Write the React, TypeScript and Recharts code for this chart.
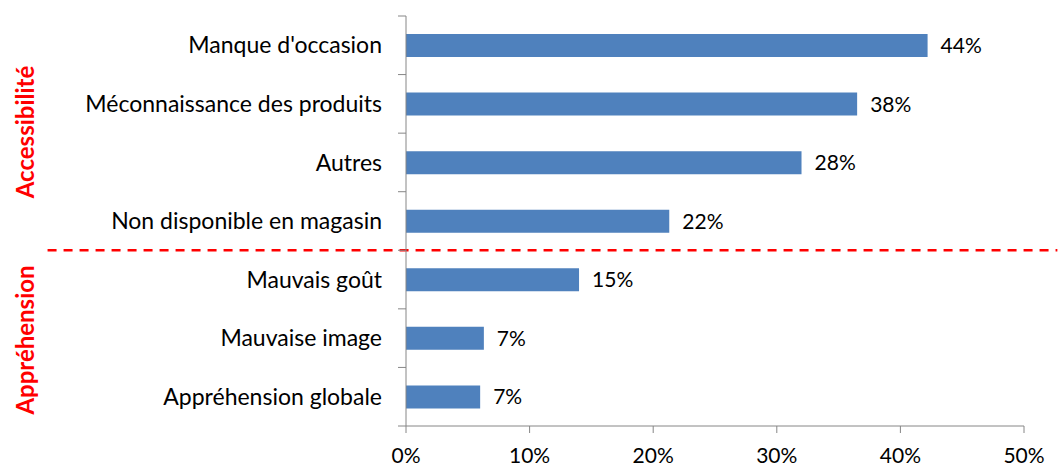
import * as React from "react";
import { Bar, BarChart, LabelList, ReferenceLine, XAxis, YAxis } from "recharts";

// Reasons given, top to bottom. First four are "Accessibilité", last three "Appréhension".
const CATEGORIES = [
  "Manque d'occasion",
  "Méconnaissance des produits",
  "Autres",
  "Non disponible en magasin",
  "Mauvais goût",
  "Mauvaise image",
  "Appréhension globale",
];
// Bar lengths as drawn (the printed labels don't quite match them).
const VALUES = [42.2, 36.5, 32.0, 21.3, 14.0, 6.3, 6.0];
const VALUE_LABELS = ["44%", "38%", "28%", "22%", "15%", "7%", "7%"];
const X_TICKS = [0, 10, 20, 30, 40, 50];
// last category of the first group; the dashed divider sits under it
const LAST_OF_FIRST_GROUP = "Non disponible en magasin";

const FONT = "Lato, 'Open Sans', sans-serif";
const BLUE = "#4F81BD";
const AXIS = "#868686";
const RED = "#FF0000";

const W = 1064;
const H = 466;
const MARGIN = { top: 16, right: 40, bottom: 0, left: 0 };
const X_AXIS_H = 40;
const Y_AXIS_W = 406;
const BAND = (H - MARGIN.top - MARGIN.bottom - X_AXIS_H) / CATEGORIES.length;

const rows = CATEGORIES.map((name, i) => ({
  name,
  value: VALUES[i],
  label: VALUE_LABELS[i],
}));

// Excel-style category tick: label at band centre, tick marks on band edges.
function CategoryTick(props: any) {
  const { x, y, payload, index } = props;
  const axisX = Y_AXIS_W + MARGIN.left;
  const top = y - BAND / 2;
  const bottom = y + BAND / 2;
  return (
    <g>
      <line x1={axisX - 8} x2={axisX} y1={top} y2={top} stroke={AXIS} />
      {index === CATEGORIES.length - 1 && (
        <line x1={axisX - 8} x2={axisX} y1={bottom} y2={bottom} stroke={AXIS} />
      )}
      <text
        x={x}
        y={y}
        dy="0.355em"
        textAnchor="end"
        fill="#000"
        fontSize={23}
        fontFamily={FONT}
      >
        {payload.value}
      </text>
    </g>
  );
}

function GroupLabel({ text, x, y }: { text: string; x: number; y: number }) {
  return (
    <div
      style={{
        position: "absolute",
        left: x,
        top: y,
        transform: "translate(-50%, -50%) rotate(-90deg)",
        color: RED,
        fontWeight: 700,
        fontSize: 24,
        whiteSpace: "nowrap",
      }}
    >
      {text}
    </div>
  );
}

export default function App() {
  return (
    <div
      style={{
        position: "absolute",
        left: 0,
        top: 0,
        width: W,
        height: H,
        background: "#fff",
        fontFamily: FONT,
      }}
    >
      <BarChart
        width={W}
        height={H}
        data={rows}
        layout="vertical"
        margin={MARGIN}
        barSize={23}
      >
        <XAxis
          type="number"
          domain={[0, 50]}
          ticks={X_TICKS}
          tickFormatter={(v: number) => `${v}%`}
          height={X_AXIS_H}
          stroke={AXIS}
          tickSize={7}
          tickMargin={15}
          tick={{ fill: "#000", fontSize: 21 }}
        />
        <YAxis
          type="category"
          dataKey="name"
          width={Y_AXIS_W}
          stroke={AXIS}
          tickLine={false}
          tickSize={0}
          tickMargin={24}
          interval={0}
          tick={<CategoryTick />}
        />
        <ReferenceLine
          segment={[
            { x: -29, y: LAST_OF_FIRST_GROUP },
            { x: 52.7, y: LAST_OF_FIRST_GROUP },
          ]}
          position="end"
          ifOverflow="visible"
          stroke={RED}
          strokeWidth={2.5}
          strokeDasharray="9 7"
        />
        <Bar dataKey="value" fill={BLUE} isAnimationActive={false}>
          <LabelList
            dataKey="label"
            position="right"
            offset={13}
            style={{ fill: "#000", fontSize: 21 }}
          />
        </Bar>
      </BarChart>
      <GroupLabel text="Accessibilité" x={24} y={132} />
      <GroupLabel text="Appréhension" x={24} y={340} />
    </div>
  );
}
